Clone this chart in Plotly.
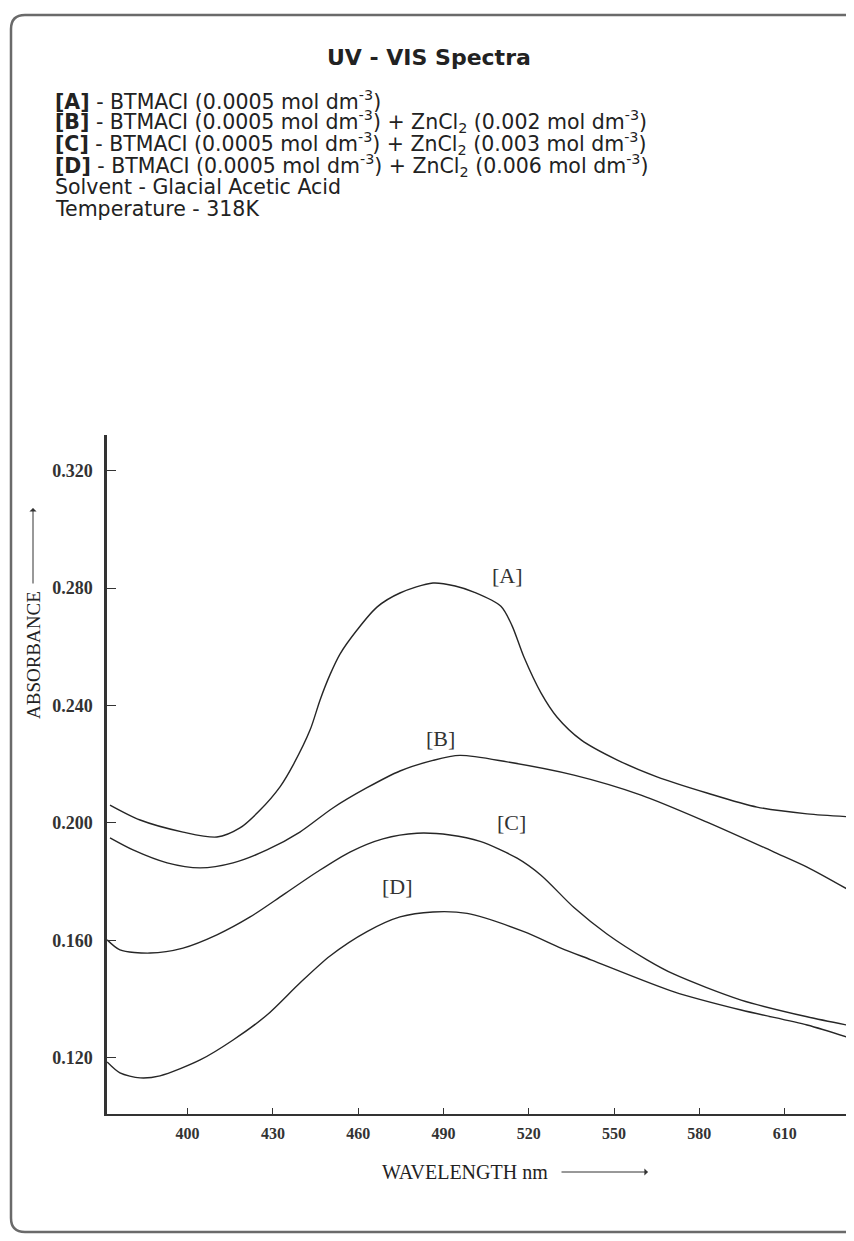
import plotly.graph_objects as go

# ---------------- data ----------------
wl_A = [372.7, 383.3, 398.4, 410.3, 418.4, 425.5, 432.5, 437.1, 443.1, 446.6, 450.1, 453.6, 459.6, 466.6,
        474.7, 486.3, 494.1, 500.7, 510.2, 514.1, 518.3, 524.3, 529.9, 538.4, 551.0, 565.1, 582.7, 600.3,
        617.9, 634.4]
abs_A = [0.2061, 0.2010, 0.1969, 0.1952, 0.1983, 0.2044, 0.2123, 0.2197, 0.2317, 0.2419, 0.2505, 0.2575, 0.2657,
         0.2735, 0.2783, 0.2817, 0.2807, 0.2786, 0.2738, 0.2672, 0.2565, 0.2443, 0.2361, 0.2283, 0.2215, 0.2157,
         0.2102, 0.2054, 0.2031, 0.2020]

wl_B = [372.7, 380.8, 392.8, 404.4, 416.0, 427.9, 439.5, 451.1, 463.1, 474.7, 486.3, 495.8, 512.4, 535.9,
        559.5, 582.7, 606.3, 617.9, 634.4]
abs_B = [0.1949, 0.1908, 0.1864, 0.1847, 0.1864, 0.1908, 0.1969, 0.2051, 0.2120, 0.2177, 0.2213, 0.2230, 0.2208,
         0.2163, 0.2095, 0.2003, 0.1901, 0.1850, 0.1762]

wl_C = [371.7, 376.2, 386.8, 398.4, 410.3, 422.0, 433.6, 445.5, 457.1, 468.7, 480.7, 492.3, 502.9, 515.9,
        524.3, 535.9, 547.5, 561.6, 571.1, 594.7, 617.9, 633.4]
abs_C = [0.1602, 0.1568, 0.1557, 0.1574, 0.1619, 0.1680, 0.1755, 0.1833, 0.1901, 0.1946, 0.1965, 0.1959, 0.1937,
         0.1880, 0.1822, 0.1712, 0.1622, 0.1534, 0.1485, 0.1397, 0.1340, 0.1309]

wl_D = [371.7, 376.2, 383.3, 390.3, 404.4, 416.0, 427.9, 439.5, 450.1, 463.1, 474.7, 486.3, 498.3,
        518.3, 531.3, 541.9, 571.1, 594.7, 617.9, 631.9]
abs_D = [0.1186, 0.1149, 0.1132, 0.1139, 0.1193, 0.1261, 0.1346, 0.1455, 0.1547, 0.1630, 0.1680, 0.1697, 0.1692,
         0.1630, 0.1574, 0.1534, 0.1425, 0.1363, 0.1312, 0.1271]

series_names = ["[A]", "[B]", "[C]", "[D]"]
label_wl = [512.4, 488.8, 513.8, 473.7]
label_abs = [0.2844, 0.2289, 0.2000, 0.1782]

x_ticks = [400, 430, 460, 490, 520, 550, 580, 610]
y_ticks = [0.120, 0.160, 0.200, 0.240, 0.280, 0.320]

title_text = "<b>UV - VIS Spectra</b>"
info_lines = [
    "<b>[A]</b> - BTMACI (0.0005 mol dm<sup>-3</sup>)",
    "<b>[B]</b> - BTMACI (0.0005 mol dm<sup>-3</sup>) + ZnCl<sub>2</sub> (0.002 mol dm<sup>-3</sup>)",
    "<b>[C]</b> - BTMACI (0.0005 mol dm<sup>-3</sup>) + ZnCl<sub>2</sub> (0.003 mol dm<sup>-3</sup>)",
    "<b>[D]</b> - BTMACI (0.0005 mol dm<sup>-3</sup>) + ZnCl<sub>2</sub> (0.006 mol dm<sup>-3</sup>)",
    "Solvent - Glacial Acetic Acid",
    "Temperature - 318K",
]

# ---------------- layout geometry ----------------
# the page body adds an 8 px margin, so the figure is 8 px smaller than the window
OFF = 8
W, H = 854 - OFF, 1241 - OFF
ML, MR, MT, MB = 107 - OFF, 0, 435 - OFF, 1241 - 1114
PW, PH = W - ML - MR, H - MT - MB


def px(xp):  # reference-window x pixel -> paper
    return (xp - OFF - ML) / PW


def py(yp):  # reference-window y pixel -> paper
    return (H - MB - (yp - OFF)) / PH


serif = "Liberation Serif"
sans = "DejaVu Sans"
ink = "#262626"

fig = go.Figure()
for wl, ab, nm in zip([wl_A, wl_B, wl_C, wl_D], [abs_A, abs_B, abs_C, abs_D], series_names):
    fig.add_trace(go.Scatter(x=wl, y=ab, mode="lines", name=nm, showlegend=False,
                             line=dict(color=ink, width=1.4, shape="spline", smoothing=0.8)))

annotations = []
for nm, lx, ly in zip(series_names, label_wl, label_abs):
    annotations.append(dict(x=lx, y=ly, xref="x", yref="y", text=nm, showarrow=False,
                            font=dict(family=serif, size=22, color="#333")))

annotations.append(dict(x=px(429), y=py(57), xref="paper", yref="paper", text=title_text,
                        showarrow=False, xanchor="center", yanchor="middle",
                        font=dict(family=sans, size=22, color="#222")))
for i, line in enumerate(info_lines):
    annotations.append(dict(x=px(53), y=py(100 + 21.7 * i), xref="paper", yref="paper", text=line,
                            showarrow=False, xanchor="left", yanchor="middle",
                            font=dict(family=sans, size=20.5, color="#222")))

# axis titles
annotations.append(dict(x=px(33), y=py(655), xref="paper", yref="paper", text="ABSORBANCE",
                        textangle=-90, showarrow=False, xanchor="center", yanchor="middle",
                        font=dict(family=serif, size=19, color="#222")))
annotations.append(dict(x=px(33), y=py(508), xref="paper", yref="paper", text="", showarrow=True,
                        ax=0, ay=77, arrowhead=1, arrowsize=1.2, arrowwidth=1, arrowcolor="#333"))
annotations.append(dict(x=px(465), y=py(1172), xref="paper", yref="paper", text="WAVELENGTH nm",
                        showarrow=False, xanchor="center", yanchor="middle",
                        font=dict(family=serif, size=20, color="#222")))
annotations.append(dict(x=px(648), y=py(1172), xref="paper", yref="paper", text="", showarrow=True,
                        ax=-88, ay=0, arrowhead=1, arrowsize=1.2, arrowwidth=1, arrowcolor="#333"))

# page frame
x0, x1, y0, y1 = px(11), px(880), py(15), py(1232)
rx, ry = 14 / PW, 14 / PH
frame_path = (f"M {x1},{y0} L {x0 + rx},{y0} Q {x0},{y0} {x0},{y0 - ry} "
              f"L {x0},{y1 + ry} Q {x0},{y1} {x0 + rx},{y1} L {x1},{y1}")

fig.update_layout(
    width=W, height=H,
    margin=dict(l=ML, r=MR, t=MT, b=MB),
    paper_bgcolor="white", plot_bgcolor="white",
    annotations=annotations,
    shapes=[dict(type="path", path=frame_path, xref="paper", yref="paper",
                 line=dict(color="#6a6a6a", width=2.5))],
    xaxis=dict(range=[371.65, 634.4], tickvals=x_ticks, ticks="inside", ticklen=6, tickwidth=1.2,
               tickcolor="#333", showline=True, linecolor="#333", linewidth=2, showgrid=False,
               zeroline=False, ticklabelstandoff=4,
               tickfont=dict(family=serif, size=16, color="#333", weight="bold")),
    yaxis=dict(range=[0.1009, 0.3321], tickvals=y_ticks, tickformat=".3f", ticks="inside", ticklen=9,
               tickwidth=1.2, tickcolor="#333", showline=True, linecolor="#333", linewidth=2.5,
               showgrid=False, zeroline=False, ticklabelstandoff=8,
               tickfont=dict(family=serif, size=18, color="#333", weight="bold")),
)

fig.write_html("out.html")
